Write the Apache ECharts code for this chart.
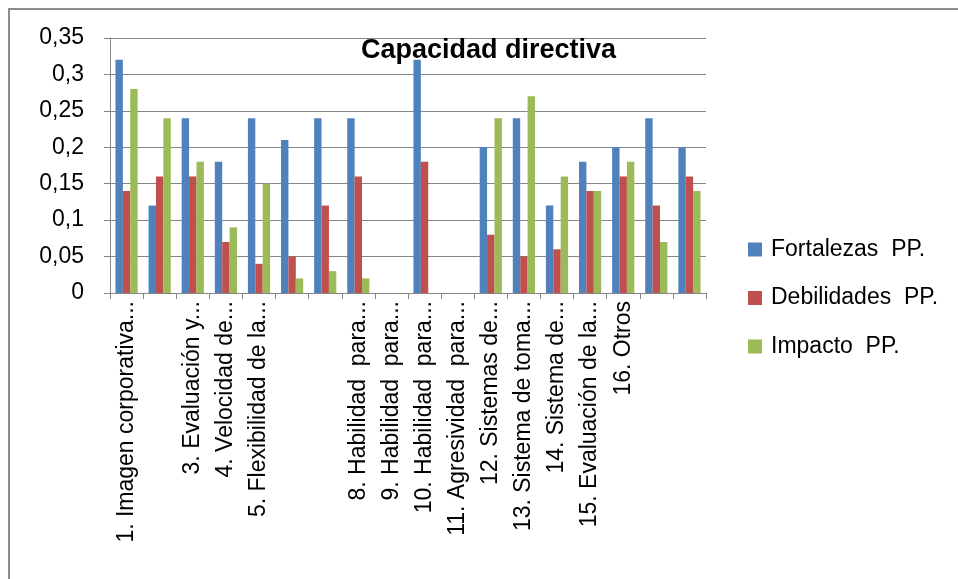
<!DOCTYPE html>
<html>
<head>
<meta charset="utf-8">
<script src="https://cdn.jsdelivr.net/npm/echarts@6/dist/echarts.min.js"></script>
<style>
  html, body { margin: 0; padding: 0; background: #ffffff; }
  #chart { width: 958px; height: 579px; }
</style>
</head>
<body>
<div id="chart"></div>
<script>
// Category labels (some positions carry no label)
const categories = [
  '1. Imagen corporativa...',
  '',
  '3. Evaluación y...',
  '4. Velocidad de...',
  '5. Flexibilidad de la...',
  '',
  '',
  '8. Habilidad  para...',
  '9. Habilidad  para...',
  '10. Habilidad  para...',
  '11. Agresividad  para...',
  '12. Sistemas de...',
  '13. Sistema de toma...',
  '14. Sistema de...',
  '15. Evaluación de la...',
  '16. Otros',
  '',
  ''
];

const fortalezas  = [0.32, 0.12, 0.24, 0.18, 0.24, 0.21, 0.24, 0.24, null, 0.32, null, 0.20, 0.24, 0.12, 0.18, 0.20, 0.24, 0.20];
const debilidades = [0.14, 0.16, 0.16, 0.07, 0.04, 0.05, 0.12, 0.16, null, 0.18, null, 0.08, 0.05, 0.06, 0.14, 0.16, 0.12, 0.16];
const impacto     = [0.28, 0.24, 0.18, 0.09, 0.15, 0.02, 0.03, 0.02, null, null, null, 0.24, 0.27, 0.16, 0.14, 0.18, 0.07, 0.14];

const seriesNames = ['Fortalezas  PP.', 'Debilidades  PP.', 'Impacto  PP.'];
const yTicks = { min: 0, max: 0.35, step: 0.05 };

const FONT = '"Liberation Sans", Arial, sans-serif';
const GRID_GREY = '#868686';

const chart = echarts.init(document.getElementById('chart'), null, { renderer: 'canvas' });

chart.setOption({
  animation: false,
  backgroundColor: '#ffffff',
  color: ['#4F81BD', '#C0504D', '#9BBB59'],
  title: {
    text: 'Capacidad directiva',
    left: 361,
    top: 37,
    padding: 0,
    textStyle: { fontFamily: FONT, fontSize: 27, fontWeight: 'bold', color: '#000000' }
  },
  legend: {
    orient: 'vertical',
    left: 748,
    top: 238,
    itemWidth: 14,
    itemHeight: 14,
    itemGap: 25.5,
    icon: 'rect',
    padding: 0,
    textStyle: { fontFamily: FONT, fontSize: 23, color: '#000000', lineHeight: 22, padding: [0, 0, 0, 4] },
    data: seriesNames
  },
  grid: { left: 110, top: 38, right: 252, bottom: 286, containLabel: false },
  xAxis: {
    type: 'category',
    data: categories,
    boundaryGap: true,
    axisLine: { show: true, lineStyle: { color: GRID_GREY, width: 1 } },
    axisTick: { show: true, alignWithLabel: false, interval: 0, length: 6, lineStyle: { color: GRID_GREY } },
    axisLabel: {
      interval: 0,
      rotate: 90,
      margin: 8,
      fontFamily: FONT,
      fontSize: 23,
      color: '#000000',
      padding: [7, 0, 0, 0]
    },
    splitLine: { show: false }
  },
  yAxis: {
    type: 'value',
    min: yTicks.min,
    max: yTicks.max,
    interval: yTicks.step,
    axisLine: { show: true, lineStyle: { color: GRID_GREY, width: 1 } },
    axisTick: { show: true, length: 6, lineStyle: { color: GRID_GREY } },
    axisLabel: {
      margin: 26,
      fontFamily: FONT,
      fontSize: 23,
      color: '#000000',
      formatter: v => String(+v.toFixed(2)).replace('.', ',')
    },
    splitLine: { show: true, lineStyle: { color: GRID_GREY, width: 1 } }
  },
  series: [
    { name: seriesNames[0], type: 'bar', data: fortalezas,  barGap: '0%', barCategoryGap: '33%' },
    { name: seriesNames[1], type: 'bar', data: debilidades, barGap: '0%', barCategoryGap: '33%' },
    { name: seriesNames[2], type: 'bar', data: impacto,     barGap: '0%', barCategoryGap: '33%' }
  ],
  graphic: [
    {
      type: 'rect',
      silent: true,
      shape: { x: 9, y: 9, width: 1000, height: 640 },
      style: { fill: 'none', stroke: '#8c8c8c', lineWidth: 2 }
    }
  ]
});
</script>
</body>
</html>
